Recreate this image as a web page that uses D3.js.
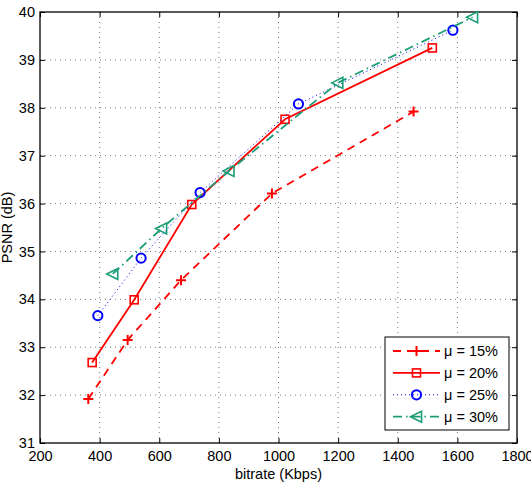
<!DOCTYPE html>
<html>
<head>
<meta charset="utf-8">
<script src="https://cdn.jsdelivr.net/npm/d3@7"></script>
<style>
  body { margin: 0; background: #fff; }
  svg { font-family: "Liberation Sans", Arial, sans-serif; }
</style>
</head>
<body>
<svg id="chart" width="531" height="484"></svg>
<script>
// data
var bitrate15 = [362, 494, 673, 978, 1453];
var psnr15    = [31.92, 33.15, 34.40, 36.21, 37.92];
var bitrate20 = [375, 516, 709, 1022, 1516];
var psnr20    = [32.68, 33.99, 35.98, 37.76, 39.25];
var bitrate25 = [394, 539, 737, 1067, 1585];
var psnr25    = [33.66, 34.86, 36.23, 38.08, 39.62];
var bitrate30 = [444, 608, 834, 1199, 1651];
var psnr30    = [34.53, 35.48, 36.68, 38.52, 39.89];
var labels    = ["\u03bc = 15%", "\u03bc = 20%", "\u03bc = 25%", "\u03bc = 30%"];
var xTicks = [200, 400, 600, 800, 1000, 1200, 1400, 1600, 1800];
var yTicks = [31, 32, 33, 34, 35, 36, 37, 38, 39, 40];

var svg = d3.select("#chart"),
  MARGINS = { top: 12, right: 14, bottom: 41, left: 40 },
  WIDTH = 531, HEIGHT = 484,
  FONT = 14.5;

var x = d3.scaleLinear().domain([200, 1800]).range([MARGINS.left, WIDTH - MARGINS.right]);
var y = d3.scaleLinear().domain([31, 40]).range([HEIGHT - MARGINS.bottom, MARGINS.top]);

// grid
var grid = svg.append("g");
grid.selectAll(".gx").data(xTicks.slice(1, -1)).enter().append("line")
  .attr("x1", d => x(d)).attr("x2", d => x(d))
  .attr("y1", y(31)).attr("y2", y(40))
  .attr("stroke", "#555").attr("stroke-width", 0.8).attr("stroke-dasharray", "1,4");
grid.selectAll(".gy").data(yTicks.slice(1, -1)).enter().append("line")
  .attr("x1", x(200)).attr("x2", x(1800))
  .attr("y1", d => y(d)).attr("y2", d => y(d))
  .attr("stroke", "#555").attr("stroke-width", 0.8).attr("stroke-dasharray", "1,4");

// axes, ticks pointing inward
function styleAxis(g) {
  g.select(".domain").remove();
  g.selectAll("text").attr("font-size", FONT).attr("fill", "#000")
    .style("font-family", "Liberation Sans, Arial, sans-serif");
}
svg.append("g").attr("transform", "translate(0," + y(31) + ")")
  .call(d3.axisBottom(x).tickValues(xTicks).tickSize(-5).tickPadding(8).tickFormat(d3.format("d"))).call(styleAxis);
svg.append("g").attr("transform", "translate(0," + y(40) + ")")
  .call(d3.axisTop(x).tickValues(xTicks).tickSize(-5).tickFormat("")).call(styleAxis);
svg.append("g").attr("transform", "translate(" + x(200) + ",0)")
  .call(d3.axisLeft(y).tickValues(yTicks).tickSize(-5).tickPadding(5)).call(styleAxis);
svg.append("g").attr("transform", "translate(" + x(1800) + ",0)")
  .call(d3.axisRight(y).tickValues(yTicks).tickSize(-5).tickFormat("")).call(styleAxis);

svg.append("rect")
  .attr("x", x(200)).attr("y", y(40))
  .attr("width", x(1800) - x(200)).attr("height", y(31) - y(40))
  .attr("fill", "none").attr("stroke", "#000").attr("stroke-width", 1.3);

// axis labels
svg.append("text").attr("x", (x(200) + x(1800)) / 2).attr("y", 479)
  .attr("text-anchor", "middle").attr("font-size", FONT).text("bitrate (Kbps)");
svg.append("text").attr("transform", "translate(12," + (y(35.5)) + ") rotate(-90)")
  .attr("text-anchor", "middle").attr("font-size", FONT).text("PSNR (dB)");

var series = [
  { xs: bitrate15, ys: psnr15, color: "#ff0000", width: 1.8, dash: "8,6", marker: "plus" },
  { xs: bitrate20, ys: psnr20, color: "#ff0000", width: 1.8, dash: null, marker: "square" },
  { xs: bitrate25, ys: psnr25, color: "#0000ff", width: 1, dash: "1,3", marker: "circle" },
  { xs: bitrate30, ys: psnr30, color: "#1b9e77", width: 1.8, dash: "9,4,1.5,4", marker: "triangle" }
];

function drawMarker(g, type, cx, cy, color) {
  if (type == "plus") {
    g.append("path").attr("d", "M" + (cx - 5) + "," + cy + "h10M" + cx + "," + (cy - 5) + "v10")
      .attr("stroke", color).attr("stroke-width", 2).attr("fill", "none");
  } else if (type == "square") {
    g.append("rect").attr("x", cx - 4).attr("y", cy - 4).attr("width", 8).attr("height", 8)
      .attr("stroke", color).attr("stroke-width", 1.6).attr("fill", "none");
  } else if (type == "circle") {
    g.append("circle").attr("cx", cx).attr("cy", cy).attr("r", 4.6)
      .attr("stroke", color).attr("stroke-width", 2).attr("fill", "none");
  } else {
    g.append("path").attr("d", "M" + (cx - 6) + "," + cy + "L" + (cx + 5) + "," + (cy - 5.5) + "L" + (cx + 5) + "," + (cy + 5.5) + "Z")
      .attr("stroke", color).attr("stroke-width", 1.6).attr("fill", "none");
  }
}

series.forEach(function(s) {
  var pts = s.xs.map((v, i) => [x(v), y(s.ys[i])]);
  svg.append("path").attr("d", d3.line()(pts))
    .attr("fill", "none").attr("stroke", s.color).attr("stroke-width", s.width)
    .attr("stroke-dasharray", s.dash);
  var g = svg.append("g");
  pts.forEach(p => drawMarker(g, s.marker, p[0], p[1], s.color));
});

// legend
var lg = svg.append("g");
lg.append("rect").attr("x", 385).attr("y", 337).attr("width", 124).attr("height", 93)
  .attr("fill", "#fff").attr("stroke", "#000").attr("stroke-width", 1);
series.forEach(function(s, i) {
  var ly = 351 + i * 21.9;
  lg.append("line").attr("x1", 393).attr("x2", 440).attr("y1", ly).attr("y2", ly)
    .attr("stroke", s.color).attr("stroke-width", s.width).attr("stroke-dasharray", s.dash);
  drawMarker(lg, s.marker, 416.5, ly, s.color);
  lg.append("text").attr("x", 444).attr("y", ly + 5).attr("font-size", FONT).text(labels[i]);
});
</script>
</body>
</html>
